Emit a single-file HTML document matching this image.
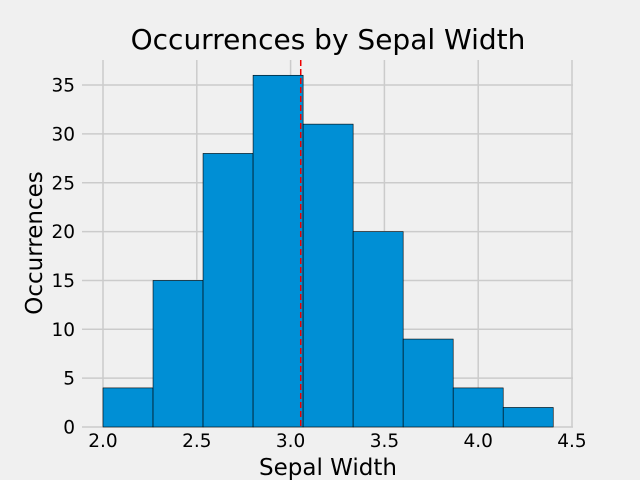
<!DOCTYPE html>
<html><head><meta charset="utf-8"><style>
body{margin:0;background:#f0f0f0;}
svg{display:block;font-family:"DejaVu Sans","Liberation Sans",sans-serif;}
</style></head><body>
<svg id="chart" width="640" height="480">
<rect width="640" height="480" fill="#f0f0f0"/>
<g id="grid"></g><g id="bars"></g><g id="ticks"></g>
<text x="328" y="49" text-anchor="middle" font-size="28" fill="#000">Occurrences by Sepal Width</text>
<text x="328" y="475" text-anchor="middle" font-size="23" fill="#000">Sepal Width</text>
<text transform="translate(42,243) rotate(-90)" text-anchor="middle" font-size="23" fill="#000">Occurrences</text>
</svg>
<script>
const binEdges=[2.0,2.2667,2.5333,2.8,3.0667,3.3333,3.6,3.8667,4.1333,4.4];
const counts=[4,15,28,36,31,20,9,4,2];
const xTicks=[2.0,2.5,3.0,3.5,4.0,4.5];
const yTicks=[0,5,10,15,20,25,30,35];
const meanValue=[3.054];
const x=v=>103+(v-2.0)*187.6;
const y=v=>427-v*9.77;
const NS="http://www.w3.org/2000/svg";
function mk(tag,attrs,parent){const e=document.createElementNS(NS,tag);for(const k in attrs)e.setAttribute(k,attrs[k]);document.getElementById(parent).appendChild(e);return e;}
const L=82,R=573,T=60,B=427;
xTicks.forEach(t=>{
 const g=mk('line',{x1:x(t),x2:x(t),y1:T,y2:B,stroke:'#cbcbcb','stroke-width':1.5},'grid');
 
 
 const l=mk('text',{x:x(t),y:447,'text-anchor':'middle','font-size':18.5},'ticks');l.textContent=t.toFixed(1);
 
 
});
yTicks.forEach(t=>{
 const g=mk('line',{x1:L,x2:R,y1:y(t),y2:y(t),stroke:'#cbcbcb','stroke-width':1.5},'grid');
 
 
 const l=mk('text',{x:75,y:y(t)+6.5,'text-anchor':'end','font-size':18.5},'ticks');l.textContent=t;
 
 
});
counts.forEach((c,i)=>{
 const r=mk('rect',{x:x(binEdges[i]),y:y(c),width:x(binEdges[i+1])-x(binEdges[i]),height:y(0)-y(c),fill:'#008fd5',stroke:'#000','stroke-width':0.6},'bars');
 
 
});
const m=mk('line',{x1:x(meanValue[0]),x2:x(meanValue[0]),y1:T,y2:B,stroke:'#e00','stroke-width':1.5,'stroke-dasharray':'6,3'},'bars');


</script>
</body></html>
